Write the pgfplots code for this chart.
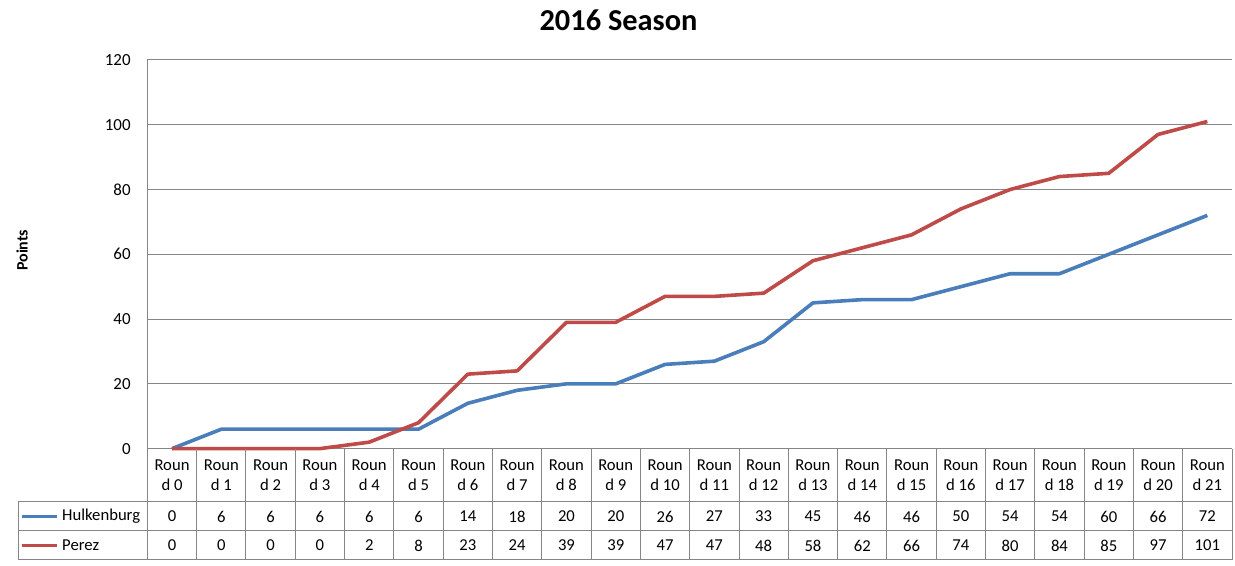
\documentclass[border=0pt]{standalone}
\usepackage{pgfplots}
\pgfplotsset{compat=1.18}
\usepackage{fontspec}
\setmainfont{Carlito}
\definecolor{hulk}{HTML}{4A7EBB}
\definecolor{perez}{HTML}{BE4B48}
\definecolor{gridgray}{HTML}{868686}
\begin{document}
\begin{tikzpicture}[x=1pt,y=1pt]
\begin{axis}[
  at={(0,0)}, anchor=south west, scale only axis,
  width=814.125pt, height=291.75pt,
  xmin=-0.5, xmax=21.5, ymin=0, ymax=120,
  ytick={0,20,...,120}, xtick=\empty,
  axis x line*=bottom, axis y line*=left,
  axis line style={draw=gridgray, line width=0.75pt, -},
  ymajorgrids, major grid style={draw=gridgray, line width=0.75pt},
  major tick length=0pt,
  yticklabel style={font=\fontsize{12.7}{15}\selectfont, inner sep=0pt, xshift=-12.4pt, anchor=east},
  /pgf/number format/assume math mode=true,
  clip=false,
]
\addplot[hulk, line width=2.7pt, line join=round, mark=none] coordinates {
(0,0) (1,6) (2,6) (3,6) (4,6) (5,6) (6,14) (7,18) (8,20) (9,20) (10,26)
(11,27) (12,33) (13,45) (14,46) (15,46) (16,50) (17,54) (18,54) (19,60) (20,66) (21,72)};
\addplot[perez, line width=2.7pt, line join=round, mark=none] coordinates {
(0,0) (1,0) (2,0) (3,0) (4,2) (5,8) (6,23) (7,24) (8,39) (9,39) (10,47)
(11,47) (12,48) (13,58) (14,62) (15,66) (16,74) (17,80) (18,84) (19,85) (20,97) (21,101)};
\end{axis}
% title and y label
\node[font=\bfseries\fontsize{22.8}{27}\selectfont] at (353.6,321.75) {2016 Season};
\node[rotate=90, font=\bfseries\fontsize{12}{14}\selectfont] at (-94.1,148.9) {Points};
% data table grid
\begin{scope}[draw=gridgray, line width=0.75pt]
\foreach \k in {0,...,22} \draw ({\k*37.006},0) -- ({\k*37.006},-83.25);
\draw (-96.9,-39.75) -- (814.125,-39.75);
\draw (-96.9,-61.5) -- (814.125,-61.5);
\draw (-96.9,-83.25) -- (814.125,-83.25);
\draw (-96.9,-39.75) -- (-96.9,-83.25);
\end{scope}
\begin{scope}[font=\fontsize{12.5}{15}\selectfont]
\foreach \k in {0,...,21}
  \node[align=center, inner sep=0pt] at ({(\k+0.5)*37.006},-20.25) {Roun\\d \k};
\foreach \v [count=\i from 0] in {0,6,6,6,6,6,14,18,20,20,26,27,33,45,46,46,50,54,54,60,66,72}
  \node[inner sep=0pt] at ({(\i+0.5)*37.006},-51) {\v};
\foreach \v [count=\i from 0] in {0,0,0,0,2,8,23,24,39,39,47,47,48,58,62,66,74,80,84,85,97,101}
  \node[inner sep=0pt] at ({(\i+0.5)*37.006},-72.75) {\v};
\draw[hulk, line width=2.7pt] (-94.1,-51) -- (-67.9,-51);
\draw[perez, line width=2.7pt] (-94.1,-72.75) -- (-67.9,-72.75);
\node[anchor=west, inner sep=0pt] at (-64.1,-51) {Hulkenburg};
\node[anchor=west, inner sep=0pt] at (-64.1,-72.75) {Perez};
\end{scope}
\pgfresetboundingbox
\path (-110.625,-87.75) rectangle (816.375,336.75);
\end{tikzpicture}
\end{document}
